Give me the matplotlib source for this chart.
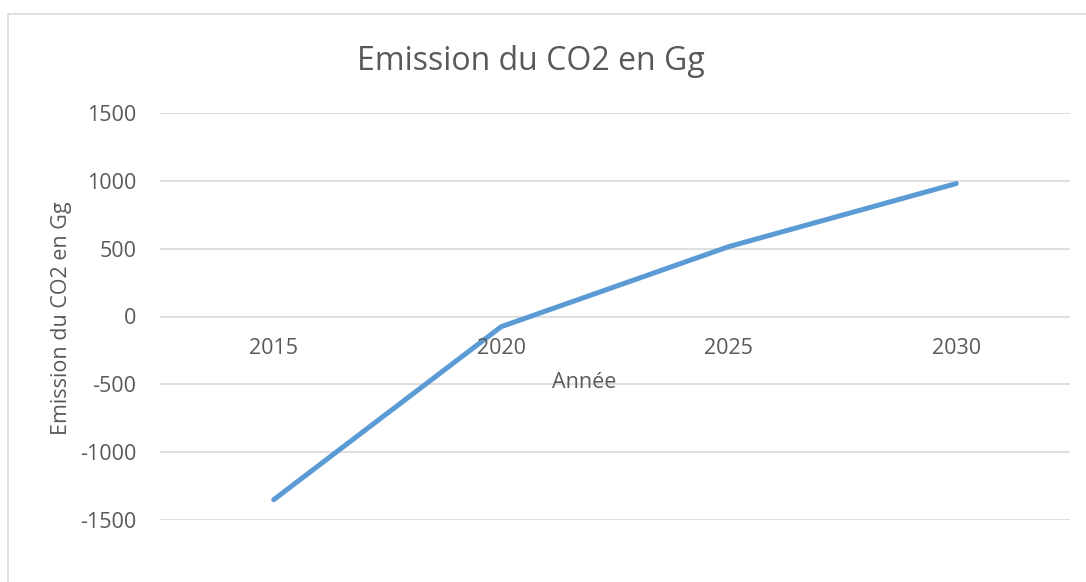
import matplotlib.pyplot as plt
from matplotlib.patches import Rectangle
from matplotlib.transforms import offset_copy

years = ["2015", "2020", "2025", "2030"]
emissions = [-1350, -75, 515, 980]
y_ticks = [-1500, -1000, -500, 0, 500, 1000, 1500]

plt.rcParams['font.family'] = ['Open Sans', 'DejaVu Sans']
text_color = "#595959"
grid_color = "#D9D9D9"

fig = plt.figure(figsize=(10.86, 5.82), dpi=100)

# chart frame
fig.patches.append(Rectangle((8 / 1086, -0.1), 1.2, 1.1 - 14 / 582, transform=fig.transFigure,
                             fill=False, edgecolor=grid_color, linewidth=1.2))

ax = fig.add_axes([160 / 1086, 1 - 520 / 582, 910 / 1086, 407 / 582])
x = list(range(len(years)))
ax.plot(x, emissions, color="#5B9BD5", linewidth=3.6, solid_capstyle='round',
        solid_joinstyle='round', zorder=3)

ax.set_xlim(-0.5, 3.5)
ax.set_ylim(-1500, 1500)
ax.set_yticks(y_ticks)
ax.set_yticklabels([str(v) for v in y_ticks])
ax.grid(axis='y', color=grid_color, linewidth=1.2)
ax.set_axisbelow(True)
for s in ax.spines.values():
    s.set_visible(False)
ax.tick_params(axis='y', length=0, pad=17, labelsize=15.5, labelcolor=text_color)
ax.set_xticks([])

# category labels sit just under the zero line
lab_trans = offset_copy(ax.transData, fig=fig, x=0, y=-22, units='dots')
for i, yr in enumerate(years):
    ax.text(i, 0, yr, transform=lab_trans, ha='center', va='top',
            fontsize=15.5, color=text_color)

fig.text(584 / 1086, 1 - 382 / 582, "Année", ha='center', va='center',
         fontsize=15.5, color=text_color)
fig.text(62 / 1086, 1 - 318 / 582, "Emission du CO2 en Gg", ha='center', va='center',
         rotation=90, fontsize=15.5, color=text_color)
fig.text(531 / 1086, 1 - 62 / 582, "Emission du CO2 en Gg", ha='center', va='center',
         fontsize=23, color=text_color)

fig.savefig("out.png", dpi=100)
